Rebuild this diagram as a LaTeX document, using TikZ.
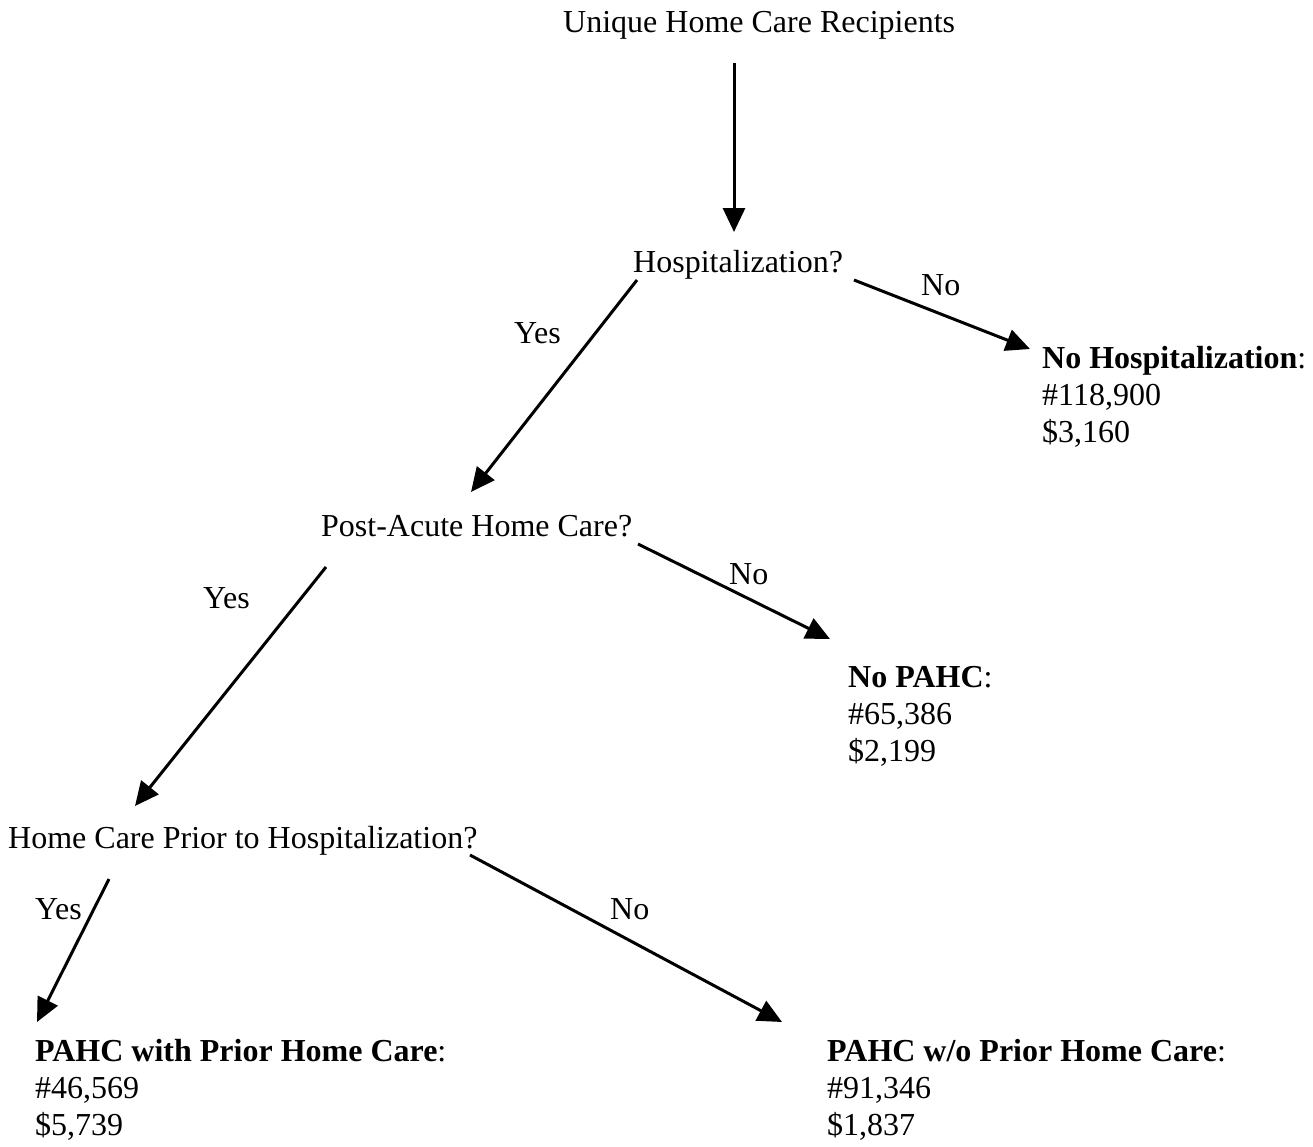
\documentclass[tikz,border=0pt]{standalone}
\usepackage{fontspec}
\setmainfont{Liberation Serif}
\usetikzlibrary{arrows.meta}
\begin{document}
\begin{tikzpicture}[x=1pt,y=-1pt,
  lbl/.style={inner sep=0pt,anchor=base west,font=\fontsize{32}{37}\selectfont},
  res/.style={inner sep=0pt,anchor=base west,align=left,font=\fontsize{32}{37}\selectfont},
  arr/.style={line width=3pt,-{Triangle[length=24pt,width=22pt]}}]
\useasboundingbox (0,0) rectangle (1313,1146);
\node[lbl] (top) at (563,32) {Unique Home Care Recipients};
\node[lbl] (hosp) at (633,272) {Hospitalization?};
\node[lbl] (yes1) at (514,343) {Yes};
\node[lbl] (no1) at (921,295) {No};
\node[res] (nohosp) at (1042,442) {\textbf{No Hospitalization}:\\\#118,900\\\$3,160};
\node[lbl] (pahc) at (321,536) {Post-Acute Home Care?};
\node[lbl] (yes2) at (203,608) {Yes};
\node[lbl] (no2) at (729,584) {No};
\node[res] (nopahc) at (848,761) {\textbf{No PAHC}:\\\#65,386\\\$2,199};
\node[lbl] (prior) at (8,848) {Home Care Prior to Hospitalization?};
\node[lbl] (yes3) at (35,919) {Yes};
\node[lbl] (no3) at (610,919) {No};
\node[res] (with) at (35,1135) {\textbf{PAHC with Prior Home Care}:\\\#46,569\\\$5,739};
\node[res] (wo) at (827,1135) {\textbf{PAHC w/o Prior Home Care}:\\\#91,346\\\$1,837};
\coordinate (a1s) at (734,63);  \coordinate (a1e) at (734,232);
\coordinate (a2s) at (854,280); \coordinate (a2e) at (1030,349);
\coordinate (a3s) at (637,280); \coordinate (a3e) at (471,492);
\coordinate (a4s) at (638,544); \coordinate (a4e) at (830,639);
\coordinate (a5s) at (326,567); \coordinate (a5e) at (135,806);
\coordinate (a6s) at (470,855); \coordinate (a6e) at (782,1022);
\coordinate (a7s) at (109,879); \coordinate (a7e) at (37,1022);
\draw[arr] (a1s) -- (a1e);
\draw[arr] (a2s) -- (a2e);
\draw[arr] (a3s) -- (a3e);
\draw[arr] (a4s) -- (a4e);
\draw[arr] (a5s) -- (a5e);
\draw[arr] (a6s) -- (a6e);
\draw[arr] (a7s) -- (a7e);
\end{tikzpicture}
\end{document}
